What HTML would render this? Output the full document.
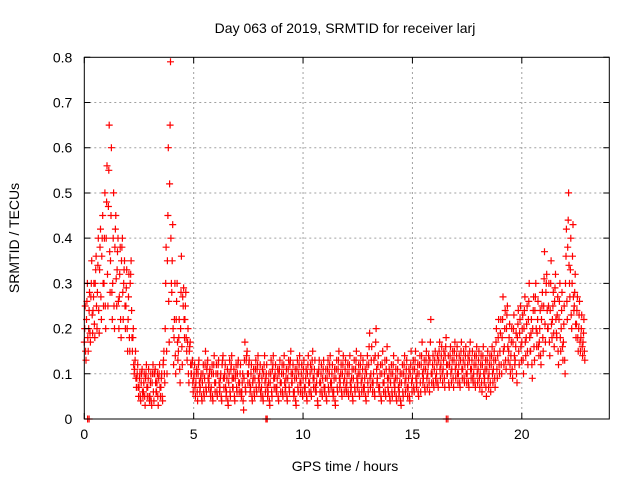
<!DOCTYPE html>
<html><head><meta charset="utf-8"><style>
html,body{margin:0;padding:0;background:#fff}
svg{display:block;font-family:"Liberation Sans",sans-serif}
</style></head><body>
<svg id="chart" width="640" height="480" viewBox="0 0 640 480">
<rect x="0" y="0" width="640" height="480" fill="#fff"/>
<text x="345" y="33" font-size="14" text-anchor="middle" fill="#000">Day 063 of 2019, SRMTID for receiver larj</text>
<text x="345" y="471" font-size="14" text-anchor="middle" fill="#000">GPS time / hours</text>
<text transform="translate(19,238) rotate(-90)" font-size="14" text-anchor="middle" fill="#000">SRMTID / TECUs</text>
<g id="grid"></g>
<g id="marks"></g>
<g id="axes"></g>
</svg>
<script>
const xTicks=[0,5,10,15,20];
const yTicks=[0,0.1,0.2,0.3,0.4,0.5,0.6,0.7,0.8];
const yTickLabels=["0","0.1","0.2","0.3","0.4","0.5","0.6","0.7","0.8"];
const seriesA=[.17,.22,.2,.27,.24,.3,.28,.33,.36,.3,
.4,.47,.35,.3,.38,.33,.27,.35,.3,.25,
.22,.3,.15,.11,.09,.07,.08,.06,.09,.07,
.05,.08,.1,.06,.09,.07,.12,.2,.35,.52,
.28,.18,.22,.15,.2,.27,.22,.13,.15,.1,
.09,.08,.1,.07,.08,.09,.11,.08,.07,.1,
.08,.1,.07,.12,.09,.06,.08,.11,.07,.09,
.1,.08,.06,.09,.13,.1,.07,.08,.09,.11,
.08,.07,.1,.09,.06,.08,.11,.09,.07,.1,
.08,.1,.07,.09,.12,.08,.06,.09,.1,.08,
.09,.07,.1,.08,.11,.09,.06,.1,.08,.09,
.07,.09,.1,.08,.06,.09,.11,.08,.1,.09,
.08,.1,.07,.09,.11,.08,.1,.09,.07,.1,
.12,.1,.08,.14,.09,.07,.1,.08,.11,.06,
.08,.1,.07,.09,.06,.08,.1,.09,.07,.1,
.09,.11,.08,.1,.12,.09,.11,.1,.13,.1,
.11,.1,.13,.12,.11,.14,.1,.12,.11,.13,
.12,.1,.13,.11,.12,.1,.13,.11,.1,.12,
.11,.1,.12,.09,.11,.1,.12,.11,.13,.14,
.15,.18,.16,.2,.15,.14,.17,.13,.18,.19,
.17,.2,.18,.22,.15,.2,.24,.19,.17,.22,
.25,.28,.2,.24,.22,.26,.18,.22,.2,.17,
.3,.38,.27,.3,.25,.21,.2,.18,.17];
const seriesB=[.25,.3,.28,.35,.3,.36,.4,.42,.45,.5,
.56,.65,.6,.5,.45,.4,.38,.4,.35,.33,
.32,.35,.2,.15,.12,.1,.11,.1,.12,.11,
.1,.12,.11,.1,.12,.1,.15,.38,.6,.79,
.43,.3,.3,.22,.36,.29,.28,.2,.17,.13,
.12,.11,.13,.1,.12,.15,.13,.11,.12,.14,
.12,.13,.1,.14,.12,.11,.13,.14,.11,.12,
.13,.12,.1,.17,.15,.13,.12,.11,.13,.14,
.12,.11,.14,.12,.1,.13,.14,.12,.11,.13,
.12,.14,.11,.13,.15,.12,.11,.13,.14,.12,
.13,.11,.14,.12,.15,.13,.1,.13,.12,.13,
.11,.13,.14,.12,.11,.13,.15,.12,.14,.13,
.12,.14,.11,.13,.15,.12,.14,.13,.11,.14,
.19,.16,.13,.2,.14,.12,.15,.13,.16,.11,
.12,.14,.11,.13,.1,.12,.14,.13,.11,.15,
.13,.15,.12,.14,.17,.13,.15,.14,.22,.14,
.15,.14,.17,.16,.15,.18,.14,.16,.15,.17,
.16,.14,.17,.15,.16,.14,.17,.15,.14,.16,
.15,.14,.16,.13,.15,.14,.16,.15,.2,.22,
.22,.27,.24,.25,.21,.2,.23,.19,.24,.25,
.23,.27,.25,.3,.22,.27,.3,.26,.24,.28,
.37,.32,.3,.35,.28,.32,.27,.3,.28,.25,
.42,.5,.4,.43,.32,.27,.26,.23,.22];
const seriesC=[.13,.15,.17,.19,.18,.2,.19,.22,.25,.2,
.25,.28,.22,.2,.25,.2,.18,.22,.2,.15,
.15,.18,.1,.07,.05,.04,.05,.03,.05,.04,
.03,.04,.06,.03,.05,.04,.08,.1,.17,.3,
.12,.1,.13,.08,.12,.18,.15,.08,.1,.06,
.05,.04,.06,.04,.05,.06,.07,.05,.04,.06,
.05,.06,.04,.07,.05,.03,.05,.07,.04,.06,
.06,.05,.02,.06,.08,.06,.04,.05,.06,.07,
.05,.04,.06,.05,.03,.05,.07,.06,.04,.06,
.05,.06,.04,.06,.08,.05,.03,.06,.06,.05,
.06,.04,.06,.05,.07,.06,.03,.06,.05,.06,
.04,.06,.07,.05,.03,.06,.07,.05,.06,.06,
.05,.06,.04,.06,.07,.05,.06,.06,.04,.06,
.07,.06,.05,.08,.06,.04,.06,.05,.07,.04,
.05,.06,.04,.05,.03,.05,.06,.05,.04,.06,
.06,.07,.05,.06,.08,.06,.07,.06,.08,.07,
.08,.07,.09,.08,.07,.1,.07,.08,.07,.09,
.08,.07,.09,.08,.08,.07,.09,.08,.07,.08,
.07,.06,.08,.05,.07,.06,.08,.07,.09,.1,
.1,.12,.11,.13,.1,.09,.12,.08,.12,.13,
.1,.14,.12,.15,.09,.13,.16,.14,.12,.15,
.17,.2,.14,.18,.16,.19,.12,.15,.13,.1,
.22,.3,.2,.24,.18,.15,.15,.14,.13];
const seriesD=[.2,.26,.24,.3,.27,.33,.34,.38,.4,.4,
.48,.55,.45,.4,.42,.37,.32,.38,.33,.29,
.27,.32,.18,.13,.1,.09,.1,.08,.1,.09,
.08,.1,.1,.08,.1,.09,.13,.3,.45,.65,
.35,.22,.26,.18,.28,.25,.25,.17,.16,.12,
.1,.1,.12,.09,.1,.12,.12,.1,.1,.12,
.1,.12,.09,.13,.1,.09,.1,.12,.09,.1,
.12,.1,.08,.13,.14,.12,.1,.09,.11,.12,
.1,.09,.12,.1,.08,.1,.12,.1,.09,.11,
.1,.12,.09,.11,.13,.1,.09,.11,.12,.1,
.11,.09,.12,.1,.13,.11,.08,.11,.1,.11,
.09,.11,.12,.1,.09,.11,.13,.1,.12,.11,
.1,.12,.09,.11,.13,.1,.12,.11,.09,.12,
.16,.13,.1,.17,.12,.1,.12,.1,.13,.09,
.1,.12,.09,.11,.08,.1,.12,.11,.09,.12,
.11,.13,.1,.12,.14,.11,.13,.12,.17,.12,
.13,.12,.15,.14,.13,.16,.12,.14,.13,.15,
.14,.12,.15,.13,.14,.12,.15,.13,.12,.14,
.13,.12,.14,.11,.13,.12,.14,.13,.17,.18,
.19,.22,.2,.23,.18,.17,.2,.16,.21,.22,
.2,.24,.21,.26,.19,.24,.27,.22,.2,.25,
.31,.3,.25,.3,.25,.29,.23,.26,.24,.21,
.36,.44,.33,.36,.28,.24,.23,.2,.19];
const seriesE=[.15,.18,.19,.23,.21,.25,.24,.27,.3,.25,
.32,.37,.28,.25,.31,.26,.22,.28,.25,.2,
.18,.24,.12,.09,.07,.05,.06,.05,.07,.05,
.04,.06,.08,.05,.07,.05,.1,.15,.26,.4,
.2,.14,.17,.11,.16,.22,.18,.1,.12,.08,
.07,.06,.08,.05,.06,.07,.09,.06,.05,.08,
.06,.08,.05,.09,.07,.04,.06,.09,.05,.07,
.08,.06,.04,.07,.1,.08,.05,.06,.07,.09,
.06,.05,.08,.07,.04,.06,.09,.07,.05,.08,
.06,.08,.05,.07,.1,.06,.04,.07,.08,.06,
.07,.05,.08,.06,.09,.07,.04,.08,.06,.07,
.05,.07,.08,.06,.04,.07,.09,.06,.08,.07,
.06,.08,.05,.07,.09,.06,.08,.07,.05,.08,
.09,.08,.06,.11,.07,.05,.08,.06,.09,.05,
.06,.08,.05,.07,.04,.06,.08,.07,.05,.08,
.07,.09,.06,.08,.1,.07,.09,.08,.1,.08,
.09,.08,.11,.1,.09,.12,.08,.1,.09,.11,
.1,.08,.11,.09,.1,.08,.11,.09,.08,.1,
.09,.08,.1,.07,.09,.08,.1,.09,.11,.12,
.12,.15,.13,.16,.12,.11,.14,.1,.15,.16,
.13,.17,.15,.18,.12,.16,.2,.16,.14,.18,
.21,.24,.17,.21,.19,.22,.15,.18,.16,.13,
.26,.34,.23,.27,.21,.18,.17,.16,.15];
const seriesStart=[0,0.02,0.04,0.06,0.08];
const zeroTimes=[0.15,0.22,8.3,8.36,16.55,16.62];
const timeStep=0.1;

const X0=84.3,X1=609.3,Y0=419,Y1=57.3,XMAX=24,YMAX=0.8;
const xs=v=>X0+(X1-X0)*v/XMAX;
const ys=v=>Y0-(Y0-Y1)*v/YMAX;
const NS="http://www.w3.org/2000/svg";
const grid=document.getElementById('grid'),marks=document.getElementById('marks'),axes=document.getElementById('axes');
function mk(tag,attrs,parent){const e=document.createElementNS(NS,tag);for(const k in attrs)e.setAttribute(k,attrs[k]);parent.appendChild(e);return e;}

xTicks.forEach(t=>{
  if(t>0){const g=mk('line',{x1:xs(t),x2:xs(t),y1:Y0,y2:Y1,stroke:'#a0a0a0','stroke-dasharray':'2,3','stroke-width':1},grid);
  
  }
  const l=mk('text',{x:xs(t),y:Y0+20,'font-size':14,'text-anchor':'middle',fill:'#000'},axes);
  l.textContent=String(t);
  
  
  const a=mk('path',{d:`M${xs(t)},${Y0}v-6M${xs(t)},${Y1}v6`,stroke:'#000','stroke-width':1},axes);
  
  
});
yTicks.forEach((t,i)=>{
  if(t>0&&t<YMAX){const g=mk('line',{x1:X0,x2:X1,y1:ys(t),y2:ys(t),stroke:'#a0a0a0','stroke-dasharray':'2,3','stroke-width':1},grid);
  
  }
  const l=mk('text',{x:X0-12,y:ys(t)+5,'font-size':14,'text-anchor':'end',fill:'#000'},axes);
  l.textContent=yTickLabels[i];
  
  
  const a=mk('path',{d:`M${X0},${ys(t)}h6M${X1},${ys(t)}h-6`,stroke:'#000','stroke-width':1},axes);
  
  
});
const frame=mk('rect',{x:X0,y:Y1,width:X1-X0,height:Y0-Y1,fill:'none',stroke:'#000','stroke-width':1},axes);



let d='';
function plus(x,y){d+=`M${(x-3.5).toFixed(1)},${y.toFixed(1)}h7M${x.toFixed(1)},${(y-3.5).toFixed(1)}v7`;}
[seriesA,seriesD,seriesB,seriesE,seriesC].forEach((s,k)=>{
  s.forEach((v,i)=>plus(xs(seriesStart[k]+i*timeStep),ys(v)));
});
zeroTimes.forEach(t=>plus(xs(t),ys(0)));
const p=mk('path',{d:d,stroke:'#ff0000','stroke-width':1.2,fill:'none'},marks);


</script>
</body></html>
